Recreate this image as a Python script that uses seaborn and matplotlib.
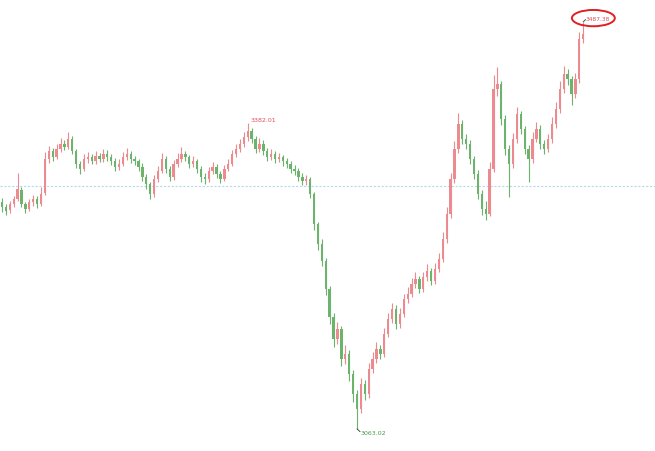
import numpy as np
import pandas as pd
import matplotlib
matplotlib.use("Agg")
import matplotlib.pyplot as plt
from matplotlib.patches import Ellipse
import seaborn as sns

### daily candles (red = up, green = down)
opens = [3300.0, 3294.0, 3290.8, 3297.0, 3303.2, 3312.5, 3297.0, 3292.8, 3299.2, 3303.0,
         3298.0, 3308.5, 3344.0, 3352.4, 3347.0, 3355.3, 3360.4, 3357.2, 3365.0, 3352.5,
         3339.6, 3334.5, 3344.8, 3346.3, 3342.7, 3347.9, 3344.2, 3349.5, 3346.9, 3342.1,
         3336.5, 3339.6, 3346.9, 3349.4, 3344.8, 3342.1, 3336.5, 3325.9, 3318.1, 3308.3,
         3323.9, 3332.3, 3344.2, 3334.4, 3325.4, 3339.6, 3344.8, 3349.9, 3346.3, 3339.6,
         3342.1, 3334.4, 3325.9, 3323.3, 3332.3, 3336.5, 3329.2, 3323.9, 3334.4, 3339.6,
         3349.9, 3355.2, 3360.4, 3367.7, 3373.4, 3365.0, 3355.2, 3360.4, 3352.5, 3346.9,
         3349.4, 3344.8, 3346.3, 3342.7, 3339.0, 3334.4, 3332.3, 3325.9, 3321.3, 3323.3,
         3308.3, 3276.4, 3256.2, 3238.5, 3209.3, 3180.1, 3157.2, 3167.0, 3136.3, 3141.5,
         3120.1, 3099.8, 3084.2, 3110.2, 3099.8, 3125.9, 3136.3, 3146.7, 3141.5, 3162.4,
         3178.0, 3188.4, 3172.8, 3183.2, 3198.9, 3204.1, 3214.5, 3219.7, 3209.3, 3221.8,
         3228.0, 3217.6, 3230.1, 3240.6, 3261.4, 3287.5, 3323.9, 3355.2, 3381.3, 3365.0,
         3360.4, 3344.8, 3329.2, 3308.3, 3292.1, 3287.5, 3334.4, 3417.8, 3422.4, 3386.5,
         3355.2, 3339.6, 3365.6, 3391.1, 3375.5, 3355.2, 3344.8, 3365.6, 3375.5, 3360.4,
         3355.2, 3365.6, 3381.3, 3396.9, 3417.8, 3433.4, 3427.6, 3412.5, 3428.2, 3469.9]

closes = [3294.5, 3290.3, 3297.6, 3302.8, 3313.2, 3297.6, 3292.4, 3299.7, 3302.8, 3297.6,
          3308.0, 3344.5, 3352.8, 3346.6, 3354.9, 3360.1, 3357.0, 3365.3, 3352.8, 3339.3,
          3334.1, 3344.5, 3346.6, 3342.4, 3347.6, 3344.5, 3349.7, 3346.6, 3342.4, 3336.2,
          3339.3, 3346.6, 3349.7, 3344.5, 3342.4, 3336.2, 3325.7, 3318.4, 3308.0, 3323.6,
          3332.0, 3344.5, 3334.1, 3325.7, 3339.3, 3344.5, 3349.7, 3346.6, 3339.3, 3342.4,
          3334.1, 3325.7, 3323.6, 3332.0, 3336.2, 3328.9, 3323.6, 3334.1, 3339.3, 3349.7,
          3354.9, 3360.1, 3367.4, 3373.7, 3365.3, 3354.9, 3360.1, 3352.8, 3346.6, 3349.7,
          3344.5, 3346.6, 3342.4, 3339.3, 3334.1, 3332.0, 3325.7, 3321.6, 3323.6, 3308.0,
          3276.7, 3255.9, 3238.2, 3209.0, 3179.8, 3156.9, 3167.3, 3136.0, 3141.2, 3120.4,
          3099.5, 3083.9, 3109.9, 3099.5, 3125.6, 3136.0, 3146.4, 3141.2, 3162.1, 3177.7,
          3188.1, 3172.5, 3182.9, 3198.6, 3203.8, 3214.2, 3219.4, 3209.0, 3221.5, 3227.7,
          3217.3, 3229.8, 3240.3, 3261.1, 3287.2, 3323.6, 3354.9, 3381.0, 3365.3, 3360.1,
          3344.5, 3328.9, 3308.0, 3292.4, 3287.2, 3334.1, 3417.5, 3422.7, 3386.2, 3354.9,
          3339.3, 3365.3, 3391.4, 3375.8, 3354.9, 3344.5, 3365.3, 3375.8, 3360.1, 3354.9,
          3365.3, 3381.0, 3396.6, 3417.5, 3433.1, 3427.9, 3412.2, 3427.9, 3469.6, 3474.8]

highs = [3303.5, 3297.0, 3300.2, 3305.6, 3330.0, 3315.0, 3300.1, 3303.0, 3306.4, 3305.8,
         3315.5, 3352.0, 3358.3, 3356.0, 3359.7, 3366.5, 3363.8, 3372.9, 3368.4, 3355.0,
         3342.8, 3349.2, 3351.3, 3350.1, 3352.9, 3350.6, 3354.8, 3353.3, 3349.5, 3345.7,
         3344.6, 3351.8, 3356.2, 3353.0, 3347.9, 3344.3, 3339.8, 3328.5, 3320.6, 3327.4,
         3336.8, 3350.9, 3347.3, 3337.0, 3343.5, 3351.2, 3357.4, 3353.1, 3349.0, 3347.2,
         3344.8, 3337.1, 3330.2, 3336.5, 3341.7, 3339.0, 3332.4, 3338.6, 3344.2, 3354.0,
         3360.3, 3365.8, 3372.6, 3382.01, 3376.8, 3368.2, 3366.7, 3363.9, 3356.0, 3355.3,
         3352.7, 3351.0, 3348.9, 3345.5, 3342.2, 3337.8, 3335.1, 3329.4, 3328.0, 3325.8,
         3310.1, 3279.2, 3260.5, 3241.3, 3212.0, 3183.4, 3174.9, 3170.5, 3150.6, 3145.0,
         3124.3, 3103.6, 3116.4, 3114.0, 3131.3, 3142.7, 3153.8, 3150.4, 3168.5, 3184.2,
         3194.6, 3191.7, 3189.3, 3204.1, 3210.5, 3220.8, 3226.3, 3222.9, 3227.0, 3234.6,
         3231.2, 3236.4, 3246.9, 3268.4, 3294.8, 3330.2, 3362.7, 3392.5, 3385.6, 3370.4,
         3363.8, 3348.0, 3332.6, 3311.7, 3300.5, 3340.8, 3432.0, 3440.5, 3426.1, 3390.2,
         3358.9, 3371.8, 3398.3, 3395.0, 3379.2, 3358.7, 3372.1, 3383.4, 3379.7, 3364.0,
         3370.6, 3387.9, 3404.2, 3425.3, 3441.6, 3438.2, 3431.0, 3434.5, 3477.3, 3487.38]

lows = [3289.0, 3286.5, 3288.4, 3294.3, 3300.5, 3294.8, 3288.0, 3290.5, 3295.9, 3293.7,
        3295.2, 3306.9, 3340.6, 3342.1, 3344.2, 3351.9, 3353.5, 3354.6, 3349.5, 3334.8,
        3328.7, 3331.6, 3340.2, 3338.8, 3339.5, 3341.0, 3340.9, 3342.7, 3337.8, 3332.4,
        3333.1, 3336.9, 3343.4, 3340.7, 3338.5, 3331.7, 3321.4, 3313.0, 3302.2, 3305.1,
        3320.3, 3329.6, 3330.2, 3321.8, 3322.9, 3336.3, 3341.5, 3342.0, 3334.9, 3336.0,
        3329.5, 3320.8, 3318.7, 3320.4, 3328.9, 3324.6, 3319.1, 3321.0, 3331.5, 3336.8,
        3346.7, 3351.4, 3356.9, 3363.5, 3360.6, 3350.3, 3351.8, 3348.5, 3342.3, 3343.1,
        3339.8, 3341.2, 3337.6, 3334.7, 3330.0, 3327.5, 3321.3, 3316.8, 3317.2, 3303.6,
        3270.4, 3249.8, 3232.6, 3202.7, 3172.5, 3148.6, 3152.0, 3128.3, 3130.8, 3112.7,
        3090.9, 3063.02, 3079.5, 3092.8, 3095.6, 3121.4, 3131.9, 3135.6, 3138.0, 3158.3,
        3173.9, 3167.2, 3168.5, 3179.7, 3194.2, 3200.6, 3210.1, 3204.4, 3205.8, 3217.3,
        3212.9, 3214.0, 3226.5, 3236.7, 3257.3, 3283.1, 3319.4, 3350.8, 3360.1, 3354.7,
        3339.2, 3323.5, 3302.4, 3286.0, 3280.3, 3284.6, 3330.9, 3410.3, 3380.0, 3348.3,
        3305.0, 3335.4, 3361.2, 3370.5, 3349.6, 3320.0, 3340.6, 3361.9, 3355.3, 3349.8,
        3351.7, 3361.4, 3377.0, 3392.8, 3413.5, 3421.7, 3400.4, 3408.1, 3424.0, 3465.2]

ref_price = 3316.3
hi_label = "3487.38"
mid_label = "3382.01"
lo_label = "3063.02"

up_color = "#ec8a90"
down_color = "#6cb46c"

df = pd.DataFrame({"open": opens, "high": highs, "low": lows, "close": closes})
df["i"] = np.arange(len(df))
df["up"] = df["close"] >= df["open"]
df["color"] = np.where(df["up"], up_color, down_color)

sns.set_style("white")
fig = plt.figure(figsize=(6.55, 4.52), dpi=100)
ax = fig.add_axes([0, 0, 1, 1])

# wicks then bodies
ax.vlines(df["i"], df["low"], df["high"], colors=df["color"], linewidth=0.8, zorder=2)
body_bottom = df[["open", "close"]].min(axis=1)
body_h = (df["close"] - df["open"]).abs().clip(lower=0.6)
ax.bar(df["i"], body_h, bottom=body_bottom, width=0.6, color=df["color"],
       linewidth=0, zorder=3)

# reference line
ax.axhline(ref_price, color="#b5d9ea", linewidth=0.8, linestyle=(0, (2, 1.5)), zorder=1)

# max / min markers
i_hi = int(df["high"].idxmax())
i_lo = int(df["low"].idxmin())
i_mid = 63

ax.annotate(mid_label, xy=(i_mid, df["high"][i_mid]), xytext=(i_mid + 0.6, df["high"][i_mid] + 1.5),
            fontsize=4.5, color="#e0505a", ha="left", va="bottom")
ax.plot([i_lo, i_lo + 0.8], [df["low"][i_lo], df["low"][i_lo] - 3], color="#333333", linewidth=0.6)
ax.text(i_lo + 1.0, df["low"][i_lo] - 4, lo_label, fontsize=4.5, color="#4a9a4a",
        ha="left", va="center")
ax.plot([i_hi, i_hi + 0.6], [df["high"][i_hi], df["high"][i_hi] + 2.5], color="#333333", linewidth=0.6)
ax.text(i_hi + 0.7, df["high"][i_hi] + 3.5, hi_label, fontsize=4.2, color="#e0505a",
        ha="left", va="center")
ax.add_patch(Ellipse((i_hi + 2.6, df["high"][i_hi] + 4.0), width=11.0, height=17,
                     fill=False, edgecolor="#e02020", linewidth=1.4, zorder=5))

ax.set_xlim(-0.51, 167.4)
ax.set_ylim(3039.9, 3511.3)
ax.axis("off")

fig.savefig("out.png", dpi=100, facecolor="white")
